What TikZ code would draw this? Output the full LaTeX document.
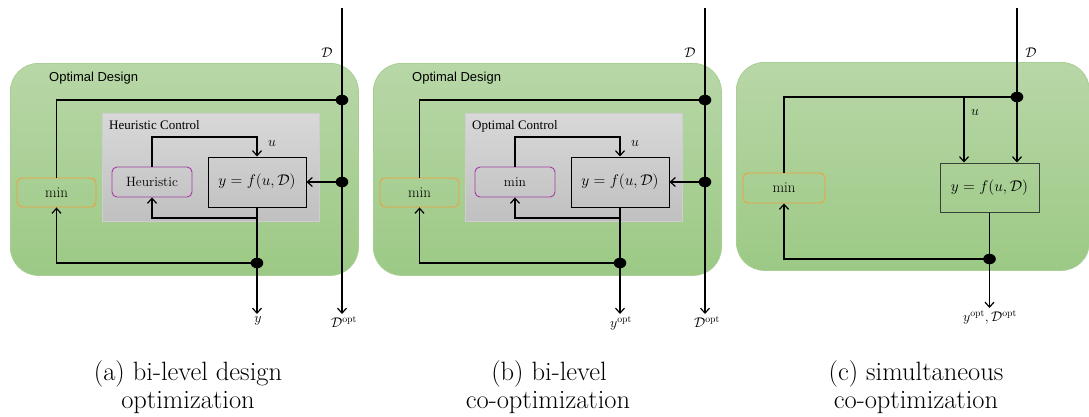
\RequirePackage{fix-cm}
\documentclass[tikz,border=0pt]{standalone}
\usepackage{fontspec}
\newfontfamily\sansf{Liberation Sans}
\newfontfamily\seriff{Liberation Serif}
\usetikzlibrary{arrows.meta,shapes.geometric}
\definecolor{greentop}{RGB}{184,215,167}
\definecolor{greenbot}{RGB}{156,201,133}
\definecolor{greenbd}{RGB}{168,206,148}
\definecolor{graytop}{RGB}{216,216,216}
\definecolor{graybot}{RGB}{192,192,192}
\definecolor{graybd}{RGB}{206,206,206}
\definecolor{orangebd}{RGB}{240,160,60}
\definecolor{purplebd}{RGB}{165,60,165}
\definecolor{fboxbd}{RGB}{55,65,55}
\newcommand\myfs[1]{\fontsize{#1}{#1}\selectfont}
\tikzset{
  panelbg/.style={rounded corners=28pt, top color=greentop, bottom color=greenbot, draw=greenbd, line width=0.8pt, anchor=north west, inner sep=0pt},
  ctrlbg/.style={top color=graytop, bottom color=graybot, draw=graybd, line width=0.6pt, anchor=north west, inner sep=0pt},
  fbox/.style={draw=black, line width=1pt, minimum width=98pt, minimum height=50pt, inner sep=0pt, font=\myfs{15.5}},
  innerbox/.style={draw=purplebd, rounded corners=5pt, line width=0.9pt, minimum width=80pt, minimum height=30pt, inner sep=0pt, font=\myfs{13.5}},
  minbox/.style={draw=orangebd, rounded corners=5pt, line width=0.9pt, minimum width=79pt, minimum height=29pt, inner sep=0pt, font=\myfs{15}},
  dotn/.style={ellipse, fill=black, minimum width=12.6pt, minimum height=10.5pt, inner sep=0pt},
  line/.style={line width=1.2pt, black},
  arr/.style={line, -{Straight Barb[length=5pt,width=9pt]}},
  lab/.style={font=\myfs{14}, inner sep=1pt},
  sanslab/.style={font=\sansf\myfs{13}, inner sep=0pt, anchor=base west},
  ctitle/.style={font=\seriff\myfs{13}, inner sep=0pt, anchor=base west},
  captext/.style={font=\myfs{26.5}, inner sep=0pt, anchor=base},
}
\newcommand\bilevel[5]{%
\begin{scope}[xshift=#2pt]
  \node[panelbg, minimum width=348pt, minimum height=212pt] (#1bg) at (10,63) {};
  \node[sanslab] (#1title) at (49,81) {Optimal Design};
  \node[ctrlbg, minimum width=217pt, minimum height=108pt] (#1ctrl) at (102,113) {};
  \node[ctitle] (#1ctitle) at (109,129) {#3};
  \node[fbox] (#1f) at (257,182) {$y=f(u,\mathcal{D})$};
  \node[innerbox] (#1h) at (152,182) {#4};
  \node[minbox] (#1min) at (56.5,192.5) {min};
  \coordinate (#1Dtop) at (342,8);
  \coordinate (#1Dend) at (342,314);
  \coordinate (#1uc) at (257,137);
  \coordinate (#1lc) at (257,218);
  \coordinate (#1yend) at (257,314);
  \node[dotn] (#1d1) at (342,100) {};
  \node[dotn] (#1d2) at (342,182) {};
  \node[dotn] (#1d3) at (257,263) {};
  \draw[arr] (#1Dtop) -- (#1Dend);
  \draw[line] (#1d1.center) -| (#1min.north);
  \draw[arr] (#1d2.center) -- (#1f.east);
  \draw[arr] (#1h.north) |- (#1uc) -- (#1f.north);
  \draw[line] (#1f.south) -- (#1d3.center);
  \draw[arr] (#1lc) -| (#1h.south);
  \draw[arr] (#1d3.center) -- (#1yend);
  \draw[arr] (#1d3.center) -| (#1min.south);
  \node[lab] (#1Dlab) at (327,53) {$\mathcal{D}$};
  \node[lab] (#1ulab) at (272,143) {$u$};
  \node[lab, anchor=north] (#1ylab) at (258,315) {#5};
  \node[lab, anchor=north] (#1Doptlab) at (344,315) {$\mathcal{D}^{\mathrm{opt}}$};
\end{scope}}
\begin{document}
\begin{tikzpicture}[x=1pt,y=-1pt]
\useasboundingbox (0,0) rectangle (1089,416);
\bilevel{a}{0}{Heuristic Control}{Heuristic}{$y$}
\bilevel{b}{363}{Optimal Control}{min}{$y^{\mathrm{opt}}$}
% panel (c)
\node[panelbg, minimum width=353pt, minimum height=208pt] (cbg) at (736,62) {};
\node[fbox, draw=fboxbd, minimum width=99pt, minimum height=49pt] (cf) at (989.5,187.5) {$y=f(u,\mathcal{D})$};
\node[minbox, minimum width=82pt, minimum height=30pt] (cmin) at (784,188) {min};
\coordinate (cDtop) at (1017,8);
\coordinate (cuj) at (964,97);
\coordinate (cyend) at (989.5,308);
\node[dotn] (cd1) at (1017,97) {};
\node[dotn] (cd3) at (989.5,259) {};
\draw[line] (cDtop) -- (cd1.center);
\draw[arr] (cd1.center) -- (cd1 |- cf.north);
\draw[line] (cd1.center) -| (cmin.north);
\draw[arr] (cuj) -- (cuj |- cf.north);
\draw[line] (cf.south) -- (cd3.center);
\draw[arr] (cd3.center) -- (cyend);
\draw[arr] (cd3.center) -| (cmin.south);
\node[lab] (cDlab) at (1031,53) {$\mathcal{D}$};
\node[lab] (culab) at (975,112) {$u$};
\node[lab, anchor=north] (coutlab) at (990,309) {$y^{\mathrm{opt}},\mathcal{D}^{\mathrm{opt}}$};
% captions
\node[captext] (capa1) at (188,380) {(a) bi-level design};
\node[captext] (capa2) at (188,408) {optimization};
\node[captext] (capb1) at (549,380) {(b) bi-level};
\node[captext] (capb2) at (548,408) {co-optimization};
\node[captext] (capc1) at (916,380) {(c) simultaneous};
\node[captext] (capc2) at (916,408) {co-optimization};
\end{tikzpicture}
\end{document}
